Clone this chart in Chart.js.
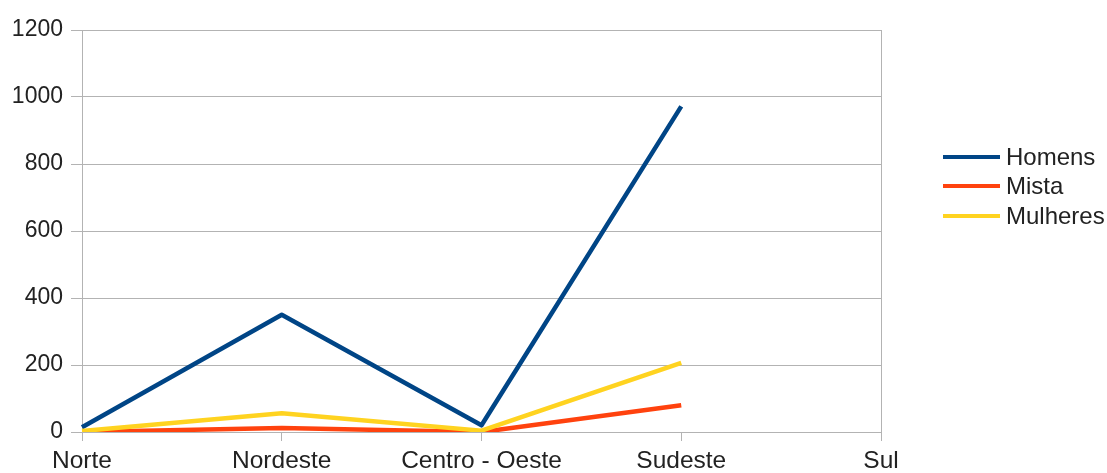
<!DOCTYPE html>
<html>
<head>
<meta charset="utf-8">
<script src="https://cdn.jsdelivr.net/npm/chart.js@4/dist/chart.umd.min.js"></script>
<style>
  html, body { margin: 0; padding: 0; background: #fff; overflow: hidden; }
  .wrap { position: relative; width: 1107px; height: 473px; }
  .legend { position: absolute; left: 943px; top: 142px; font-family: 'Liberation Sans', Arial, sans-serif; font-size: 24px; color: #222; white-space: nowrap; }
  .legend__item { display: flex; align-items: center; height: 29.5px; }
  .legend__swatch { width: 57px; height: 4px; margin-right: 6px; }
</style>
</head>
<body>
<div class="wrap">
  <canvas id="chart" width="1107" height="473"></canvas>
  <div class="legend" id="legend"></div>
</div>
<script>
/* ── DATA ── */
const regions = ['Norte', 'Nordeste', 'Centro - Oeste', 'Sudeste', 'Sul'];
const homens = [14, 350, 20, 972, null];
const mista = [0, 12, 0, 80, null];
const mulheres = [3, 56, 4, 206, null];
const yTicks = [0, 200, 400, 600, 800, 1000, 1200];

const GRID = '#b3b3b3';
const FONT_X = { family: 'Liberation Sans', size: 24.5 };
const FONT_Y = { family: 'Liberation Sans', size: 23 };

const datasets = [
  { label: 'Homens', data: homens, borderColor: '#004586', order: 2 },
  { label: 'Mista', data: mista, borderColor: '#ff420e', order: 1 },
  { label: 'Mulheres', data: mulheres, borderColor: '#ffd320', order: 0 },
].map(d => ({
  ...d, backgroundColor: d.borderColor, borderWidth: 4.5, tension: 0,
  pointRadius: 0, borderJoinStyle: 'round', spanGaps: false,
}));

const chart = new Chart(document.getElementById('chart'), {
  type: 'line',
  data: { labels: regions, datasets },
  options: {
    responsive: false, animation: false,
    layout: { padding: { top: 30, right: 226, bottom: 0, left: 0 } },
    plugins: { legend: { display: false }, tooltip: { enabled: false } },
    scales: {
      x: {
        offset: false,
        grid: {
          color: c => (c.index === regions.length - 1 ? GRID : 'rgba(0,0,0,0)'),
          tickColor: GRID, tickLength: 9, lineWidth: 1,
        },
        border: { color: GRID },
        ticks: { font: FONT_X, color: '#222', padding: 6, maxRotation: 0, autoSkip: false },
        afterFit: s => { s.height = 41; },
      },
      y: {
        min: 0, max: 1200,
        afterBuildTicks: s => { s.ticks = yTicks.map(v => ({ value: v })); },
        grid: { color: GRID, tickLength: 11, tickColor: GRID },
        border: { color: GRID },
        ticks: { font: FONT_Y, color: '#222', padding: 8, callback: v => String(v) },
        afterFit: s => { s.width = 82; },
      },
    },
  },
});

/* ── LEGEND (html) ── */
const legendEl = document.getElementById('legend');
chart.data.datasets.forEach(ds => {
  const row = document.createElement('div');
  row.className = 'legend__item';
  row.innerHTML = '<span class="legend__swatch" style="background:' + ds.borderColor + '"></span>' + ds.label;
  legendEl.appendChild(row);
});
</script>
</body>
</html>
